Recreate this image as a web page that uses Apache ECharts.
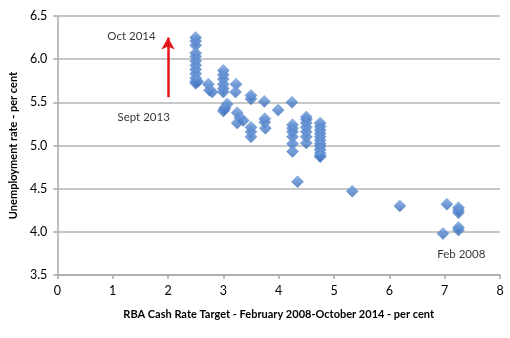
<!DOCTYPE html>
<html>
<head>
<meta charset="utf-8">
<script src="https://cdn.jsdelivr.net/npm/echarts@6/dist/echarts.min.js"></script>
<style>
  html, body { margin: 0; padding: 0; background: #fff; }
  #chart { width: 510px; height: 338px; }
</style>
</head>
<body>
<div id="chart"></div>
<script>
// Monthly observations: RBA cash rate target (x) vs unemployment rate (y)
const cashRate = [
  2.5, 2.5, 2.5, 2.5, 2.5, 2.5, 2.5, 2.5, 2.5, 2.5, 2.5, 2.5, 2.54,
  2.73, 2.75, 2.8,
  3.0, 3.0, 3.0, 3.0, 3.0, 3.0, 3.07, 3.03, 3.0, 3.02,
  3.23, 3.22, 3.25, 3.3, 3.25, 3.36,
  3.5, 3.5, 3.5, 3.5, 3.5,
  3.74, 3.75, 3.75, 3.76,
  3.99,
  4.24, 4.25, 4.25, 4.25, 4.25, 4.25, 4.25,
  4.5, 4.5, 4.5, 4.5, 4.5, 4.5, 4.5,
  4.75, 4.75, 4.75, 4.75, 4.75, 4.75, 4.75, 4.75, 4.75, 4.75, 4.75, 4.75,
  4.34, 5.33, 6.19,
  7.04, 7.25, 7.25, 7.25, 7.25, 7.25, 6.97
];
const unemployment = [
  6.25, 6.21, 6.16, 6.07, 6.03, 5.98, 5.93, 5.88, 5.83, 5.78, 5.74, 5.72, 5.74,
  5.71, 5.64, 5.62,
  5.87, 5.82, 5.77, 5.71, 5.66, 5.62, 5.48, 5.44, 5.40, 5.42,
  5.71, 5.62, 5.38, 5.32, 5.26, 5.29,
  5.58, 5.54, 5.21, 5.16, 5.10,
  5.51, 5.31, 5.27, 5.20,
  5.41,
  5.50, 5.24, 5.20, 5.16, 5.10, 5.02, 4.93,
  5.33, 5.30, 5.26, 5.21, 5.16, 5.10, 5.03,
  5.26, 5.22, 5.18, 5.14, 5.10, 5.06, 5.02, 4.99, 4.95, 4.91, 4.88, 4.87,
  4.58, 4.47, 4.30,
  4.32, 4.28, 4.25, 4.22, 4.05, 4.02, 3.98
];

// Axis ranges and tick steps
const xRange = [0, 8];
const xStep = 1;
const yRange = [3.5, 6.5];
const yStep = 0.5;

// Annotation text and anchor positions (data units)
const noteText = ['Oct 2014', 'Sept 2013', 'Feb 2008'];
const noteX = [1.34, 1.56, 7.30];
const noteY = [6.27, 5.33, 3.74];

// Arrow from Sept 2013 to Oct 2014 (data units)
const arrowX = 2.0;
const arrowFromY = 5.56;
const arrowToY = 6.25;

const points = cashRate.map((x, i) => [x, unemployment[i]]);
const notes = noteText.map((t, i) => ({ value: [noteX[i], noteY[i]], name: t }));

const font = 'Lato, "Liberation Sans", Arial, sans-serif';
const gridGray = '#b5b5b5';

const chart = echarts.init(document.getElementById('chart'), null, { renderer: 'canvas' });
chart.setOption({
  animation: false,
  backgroundColor: '#ffffff',
  grid: { left: 53, right: 10, top: 16, bottom: 63, containLabel: false },
  xAxis: {
    type: 'value',
    min: xRange[0], max: xRange[1], interval: xStep,
    name: 'RBA Cash Rate Target - February 2008-October 2014 - per cent',
    nameLocation: 'middle', nameGap: 34,
    nameTextStyle: { fontFamily: font, fontWeight: 'bold', fontSize: 11, color: '#000' },
    axisLine: { show: true, lineStyle: { color: '#a8a8a8', width: 1.5 } },
    axisTick: { show: true, length: 4, lineStyle: { color: '#a8a8a8', width: 1.5 } },
    axisLabel: { fontFamily: font, fontSize: 12.5, color: '#000', margin: 9 },
    splitLine: { show: false }
  },
  yAxis: {
    type: 'value',
    min: yRange[0], max: yRange[1], interval: yStep,
    name: 'Unemployment rate - per cent',
    nameLocation: 'middle', nameGap: 36,
    nameTextStyle: { fontFamily: font, fontWeight: 'bold', fontSize: 11, color: '#000' },
    axisLine: { show: true, lineStyle: { color: '#a8a8a8', width: 1.5 } },
    axisTick: { show: true, length: 4, lineStyle: { color: '#a8a8a8', width: 1.5 } },
    axisLabel: { fontFamily: font, fontSize: 12.5, color: '#000', margin: 10,
      formatter: v => v.toFixed(1) },
    splitLine: { show: true, lineStyle: { color: gridGray, width: 1.5 } }
  },
  series: [
    {
      type: 'scatter',
      data: points,
      symbol: 'diamond',
      symbolSize: [12, 12],
      itemStyle: {
        color: new echarts.graphic.LinearGradient(0, 0, 0, 1, [
          { offset: 0, color: '#7ea7e2' },
          { offset: 0.5, color: '#4f82cc' },
          { offset: 1, color: '#3a69b0' }
        ]),
        borderColor: '#5b88c8',
        borderWidth: 0.6
      },
      markLine: {
        silent: true,
        symbol: ['none', 'arrow'],
        symbolSize: [10, 12],
        label: { show: false },
        lineStyle: { color: '#e3141b', width: 2.5, type: 'solid' },
        data: [[
          { coord: [arrowX, arrowFromY] },
          { coord: [arrowX, arrowToY] }
        ]]
      },
      z: 3
    },
    {
      type: 'scatter',
      data: notes,
      symbolSize: 0,
      silent: true,
      label: {
        show: true,
        position: 'inside',
        formatter: p => p.name,
        fontFamily: font,
        fontSize: 11.5,
        color: '#000'
      },
      z: 4
    }
  ]
});
</script>
</body>
</html>
